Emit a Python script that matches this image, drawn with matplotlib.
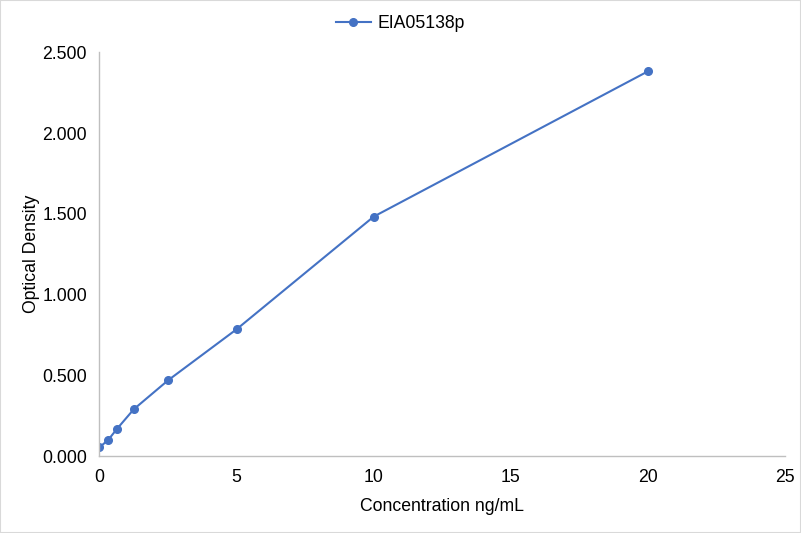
import matplotlib
matplotlib.use("Agg")
import matplotlib.pyplot as plt
from matplotlib.patches import Rectangle

plt.rcParams['font.family'] = ['Liberation Sans', 'DejaVu Sans']

concentration = [0, 0.312, 0.625, 1.25, 2.5, 5, 10, 20]
optical_density = [0.056, 0.100, 0.167, 0.291, 0.470, 0.786, 1.483, 2.382]
series_name = "EIA05138p"
x_ticks = [0, 5, 10, 15, 20, 25]
y_ticks = [0.0, 0.5, 1.0, 1.5, 2.0, 2.5]

fs = 12.7
fig = plt.figure(figsize=(8.01, 5.33), dpi=100)
ax = fig.add_axes([0.1242, 0.1439, 0.8558, 0.758])
color = '#4472C4'
ax.plot(concentration, optical_density, color=color, lw=1.5, marker='o',
        markersize=5.5, label=series_name)
ax.set_xlim(0, 25)
ax.set_ylim(0, 2.5)
ax.set_xticks(x_ticks)
ax.set_yticks(y_ticks)
ax.set_yticklabels([f"{v:.3f}" for v in y_ticks])
for s in ['top', 'right']:
    ax.spines[s].set_visible(False)
for s in ['left', 'bottom']:
    ax.spines[s].set_color('#BFBFBF')
    ax.spines[s].set_linewidth(1)
ax.tick_params(length=0, labelsize=fs, colors='#000000', pad=9)
ax.tick_params(axis='x', pad=9)
ax.set_xlabel("Concentration ng/mL", fontsize=fs, labelpad=9)
ax.set_ylabel("Optical Density", fontsize=fs)
ax.yaxis.set_label_coords(-0.0868, 0.5)
leg = fig.legend(loc='center', bbox_to_anchor=(0.5, 0.955), frameon=False,
                 fontsize=fs, handlelength=2.0, handletextpad=0.4)
fig.patches.append(Rectangle((0, 0), 1, 1, transform=fig.transFigure,
                             fill=False, edgecolor='#D9D9D9', lw=1.5))
fig.savefig("out.png", dpi=100)
